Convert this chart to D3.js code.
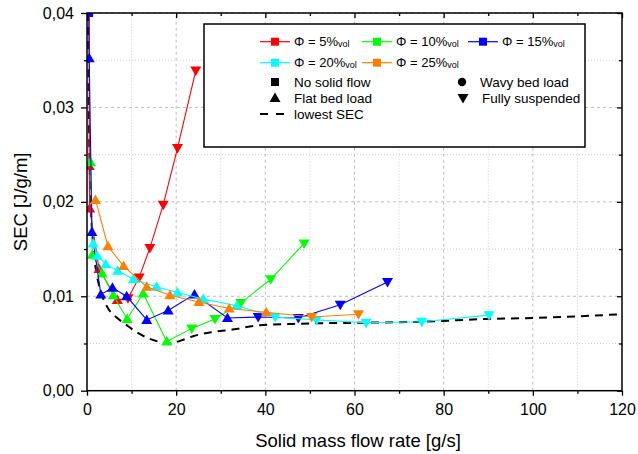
<!DOCTYPE html>
<html><head><meta charset="utf-8">
<script src="https://cdn.jsdelivr.net/npm/d3@7"></script>
<style>body{margin:0;background:#fff}svg{display:block;font-family:"Liberation Sans",Arial,sans-serif}</style>
</head><body><svg id="c" width="638" height="454"></svg>
<script>
// ---- data ----
const xTicks = [0, 20, 40, 60, 80, 100, 120];
const yTicks = [0, 0.01, 0.02, 0.03, 0.04];
const seriesNames = ["Φ = 5%", "Φ = 10%", "Φ = 15%", "Φ = 20%", "Φ = 25%"];
const seriesColors = ["#ff0000", "#00ff00", "#0000ff", "#00ffff", "#ff8000"];

const red5X = [0.5, 0.5, 0.6, 2.7, 6.8, 9.2, 11.7, 14.1, 17.1, 20.3, 24.4];
const red5Y = [0.040, 0.0238, 0.0193, 0.0129, 0.0096, 0.0098, 0.0120, 0.0151, 0.0197, 0.0257, 0.0339];
const red5R = ["S","U","U","U","U","D","D","D","D","D","D"];

const green10X = [0.8, 1.2, 3.4, 5.9, 9.0, 12.6, 17.9, 23.5, 28.7, 34.5, 41.2, 48.7];
const green10Y = [0.0242, 0.0144, 0.0124, 0.0101, 0.0076, 0.0103, 0.0052, 0.0066, 0.0076, 0.0093, 0.0118, 0.0156];
const green10R = ["U","U","U","U","U","U","U","D","D","D","D","D"];

const blue15X = [0.4, 0.5, 1.1, 3.1, 5.7, 8.9, 13.4, 18.2, 24.1, 31.5, 38.4, 47.4, 56.8, 67.4];
const blue15Y = [0.040, 0.0352, 0.0168, 0.0102, 0.0109, 0.0100, 0.0075, 0.0085, 0.0102, 0.0077, 0.0078, 0.0077, 0.0091, 0.0115];
const blue15R = ["S","U","U","U","U","U","U","U","U","U","D","D","D","D"];

const cyan20X = [1.4, 2.3, 4.2, 6.9, 10.4, 15.6, 20.3, 26.1, 33.6, 42.2, 51.5, 62.6, 75.1, 90.2];
const cyan20Y = [0.0156, 0.0143, 0.0134, 0.0127, 0.0118, 0.0110, 0.0104, 0.0097, 0.0090, 0.0078, 0.0075, 0.0072, 0.0073, 0.0080];
const cyan20R = ["U","U","U","U","U","U","U","U","U","D","D","D","D","D"];

const orange25X = [1.9, 4.7, 8.2, 13.4, 18.6, 25.1, 31.9, 40.2, 50.4, 60.9];
const orange25Y = [0.0202, 0.0153, 0.0132, 0.0110, 0.0101, 0.0094, 0.0087, 0.0083, 0.0078, 0.0081];
const orange25R = ["U","U","U","U","U","U","U","U","D","D"];

const lowestX = [0.25, 0.4, 0.6, 0.9, 1.3, 1.9, 2.8, 4.5, 6.8, 9, 11.5, 14, 17, 18.5, 21, 24, 28, 33, 38, 48, 62, 75, 90, 100, 120];
const lowestY = [0.04, 0.03, 0.024, 0.019, 0.016, 0.0131, 0.0110, 0.0089, 0.0077, 0.0069, 0.0061, 0.0055, 0.0051, 0.0050, 0.0053, 0.0058, 0.0062, 0.0065, 0.0069, 0.0071, 0.0072, 0.0073, 0.0076, 0.0077, 0.0081];

const regimeLabels = [["S","No solid flow"],["C","Wavy bed load"],["U","Flat bed load"],["D","Fully suspended"]];

// ---- chart ----
const svg = d3.select("#c");
const x = d3.scaleLinear().domain([0, 120]).range([87, 622]);
const y = d3.scaleLinear().domain([0, 0.04]).range([390.7, 13]);
const [X0, X1] = x.range(); const [Y0, Y1] = y.range();

svg.append("defs").append("clipPath").attr("id","clip")
  .append("rect").attr("x",X0).attr("y",Y1).attr("width",X1-X0).attr("height",Y0-Y1);

// grid
const g = svg.append("g");
d3.range(10, 120, 10).forEach(v => {
  const major = v % 20 === 0;
  g.append("line").attr("x1",x(v)).attr("x2",x(v)).attr("y1",Y0).attr("y2",Y1)
   .attr("stroke", major ? "#bdbdbd" : "#cfcfcf").attr("stroke-width",1)
   .attr("stroke-dasharray", major ? "3,3" : "1,2");
});
d3.range(0.005, 0.04, 0.005).forEach(v => {
  const major = Math.abs(v/0.01 - Math.round(v/0.01)) < 1e-6;
  g.append("line").attr("y1",y(v)).attr("y2",y(v)).attr("x1",X0).attr("x2",X1)
   .attr("stroke", major ? "#bdbdbd" : "#cfcfcf").attr("stroke-width",1)
   .attr("stroke-dasharray", major ? "3,3" : "1,2");
});

// shapes
function shapePath(r, s) {
  s = s || 1;
  if (r === "U") return `M0,${-5.5*s}L${5.5*s},${4*s}L${-5.5*s},${4*s}Z`;
  if (r === "D") return `M0,${5.5*s}L${5.5*s},${-4*s}L${-5.5*s},${-4*s}Z`;
  if (r === "S") return `M${-4*s},${-4*s}H${4*s}V${4*s}H${-4*s}Z`;
  return d3.symbol(d3.symbolCircle, 55*s*s)();
}

const plot = svg.append("g").attr("clip-path","url(#clip)");
const line = d3.line().x(d => x(d[0])).y(d => y(d[1]));

// lowest SEC
plot.append("path").datum(d3.zip(lowestX, lowestY))
  .attr("d", d3.line().x(d => x(d[0])).y(d => y(d[1])).curve(d3.curveMonotoneX))
  .attr("fill","none").attr("stroke","#000").attr("stroke-width",2).attr("stroke-dasharray","8,6");

const allSeries = [
  [red5X, red5Y, red5R], [green10X, green10Y, green10R], [blue15X, blue15Y, blue15R],
  [cyan20X, cyan20Y, cyan20R], [orange25X, orange25Y, orange25R]
];
allSeries.forEach(([sx, sy, sr], i) => {
  const pts = d3.zip(sx, sy, sr);
  const col = seriesColors[i];
  plot.append("path").datum(pts).attr("d", line)
    .attr("fill","none").attr("stroke", col).attr("stroke-width",1.1);
  plot.selectAll(null).data(pts).enter().append("path")
    .attr("d", d => shapePath(d[2]))
    .attr("transform", d => `translate(${x(d[0])},${y(d[1])})`)
    .attr("fill", col);
});

// axes
const fmtY = d => d3.format(".2f")(d).replace(".", ",");
const axisStyle = sel => { sel.select(".domain").remove(); sel.selectAll("line").attr("stroke","#000").attr("stroke-width",1.3); sel.selectAll("text").attr("font-size",16).attr("fill","#000").attr("font-family","Liberation Sans, Arial, sans-serif"); };

svg.append("g").attr("transform",`translate(0,${Y0})`)
  .call(d3.axisBottom(x).tickValues(xTicks).tickSize(5).tickPadding(8)).call(axisStyle);
svg.append("g").attr("transform",`translate(0,${Y0})`)
  .call(d3.axisBottom(x).tickValues(d3.range(10,120,20)).tickSize(3).tickFormat("")).call(axisStyle);
svg.append("g").attr("transform",`translate(${X0},0)`)
  .call(d3.axisLeft(y).tickValues(yTicks).tickFormat(fmtY).tickSize(6).tickPadding(7)).call(axisStyle);
svg.append("g").attr("transform",`translate(${X0},0)`)
  .call(d3.axisLeft(y).tickValues([0.005,0.015,0.025,0.035]).tickSize(3).tickFormat("")).call(axisStyle);
// mirrored inward ticks on right and top
svg.append("g").attr("transform",`translate(${X1},0)`)
  .call(d3.axisRight(y).tickValues(yTicks).tickSize(-5).tickFormat("")).call(axisStyle);
svg.append("g").attr("transform",`translate(${X1},0)`)
  .call(d3.axisRight(y).tickValues([0.005,0.015,0.025,0.035]).tickSize(-3).tickFormat("")).call(axisStyle);
svg.append("g").attr("transform",`translate(0,${Y1})`)
  .call(d3.axisTop(x).tickValues(xTicks).tickSize(-5).tickFormat("")).call(axisStyle);
svg.append("g").attr("transform",`translate(0,${Y1})`)
  .call(d3.axisTop(x).tickValues(d3.range(10,120,20)).tickSize(-3).tickFormat("")).call(axisStyle);

// frame
svg.append("rect").attr("x",X0).attr("y",Y1).attr("width",X1-X0).attr("height",Y0-Y1)
  .attr("fill","none").attr("stroke","#000").attr("stroke-width",1.5);

// axis titles
svg.append("text").attr("x",358).attr("y",446.5).attr("text-anchor","middle")
  .attr("font-size",18.5).text("Solid mass flow rate [g/s]");
svg.append("text").attr("transform",`translate(26.5,${(Y0+Y1)/2}) rotate(-90)`).attr("text-anchor","middle")
  .attr("font-size",18.5).text("SEC [J/g/m]");

// legend
const lg = svg.append("g");
lg.append("rect").attr("x",204).attr("y",24).attr("width",381).attr("height",123)
  .attr("fill","#fff").attr("stroke","#000").attr("stroke-width",1.5);
const legPos = [[260,41.7],[362,41.7],[468,41.7],[260,62.7],[362,62.7]];
seriesNames.forEach((nm, i) => {
  const [lx, ly] = legPos[i];
  lg.append("line").attr("x1",lx).attr("x2",lx+30).attr("y1",ly).attr("y2",ly)
    .attr("stroke",seriesColors[i]).attr("stroke-width",1.2);
  lg.append("path").attr("d",shapePath("S")).attr("transform",`translate(${lx+15},${ly})`).attr("fill",seriesColors[i]);
  const t = lg.append("text").attr("x",lx+34).attr("y",ly+4.6).attr("font-size",13);
  t.append("tspan").text(nm);
  t.append("tspan").attr("font-size",9).attr("dy",1).text("vol");
});
const regPos = [[275,82,294],[462,82,480],[275,98,294],[463,98,482]];
regimeLabels.forEach(([r, lab], i) => {
  const [mx, my, tx] = regPos[i];
  lg.append("path").attr("d",shapePath(r)).attr("transform",`translate(${mx},${my})`).attr("fill","#000");
  lg.append("text").attr("x",tx).attr("y",my+4.8).attr("font-size",13.5).text(lab);
});
lg.append("line").attr("x1",260).attr("x2",290).attr("y1",114).attr("y2",114)
  .attr("stroke","#000").attr("stroke-width",2).attr("stroke-dasharray","8,8");
lg.append("text").attr("x",294).attr("y",118.8).attr("font-size",13.5).text("lowest SEC");
</script></body></html>
